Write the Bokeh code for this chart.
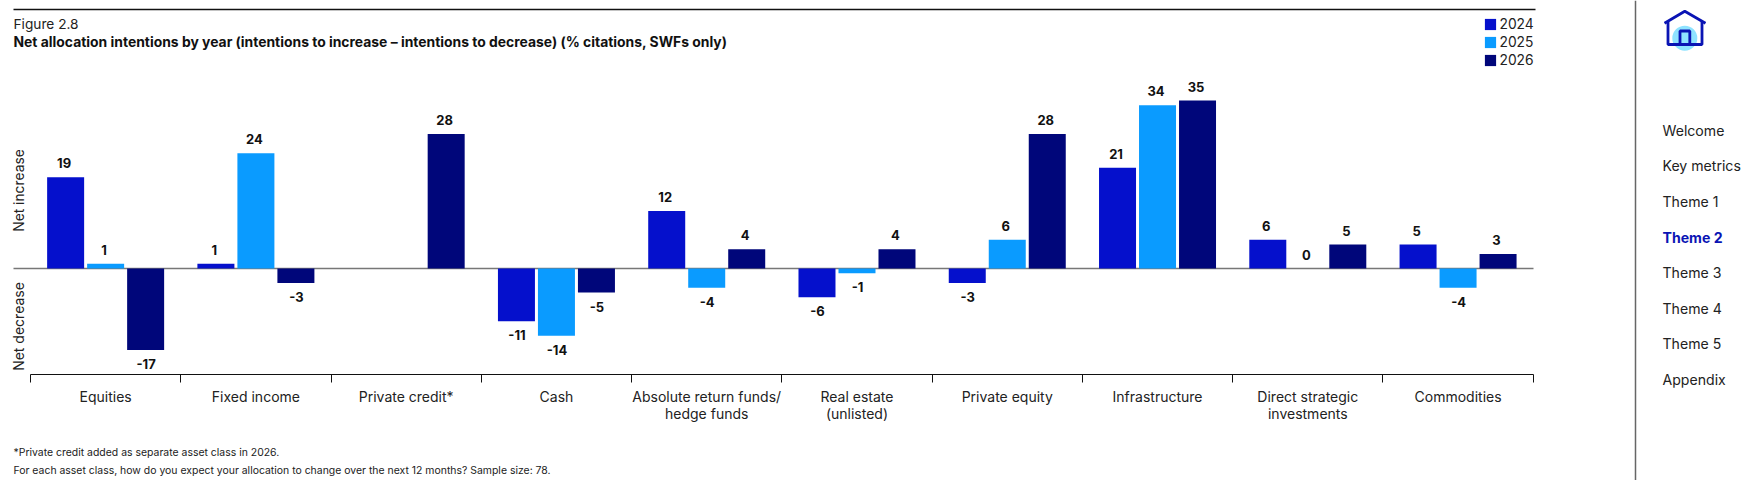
import math
from bokeh.plotting import figure
from bokeh.embed import file_html
from bokeh.resources import INLINE
from bokeh.models import (Range1d, LinearAxis, FixedTicker, Label, Legend, LegendItem, ColumnDataSource)
from bokeh.core.properties import value

categories = ["Equities", "Fixed income", "Private credit*", "Cash",
              "Absolute return funds/\nhedge funds", "Real estate\n(unlisted)",
              "Private equity", "Infrastructure",
              "Direct strategic\ninvestments", "Commodities"]
nan = float("nan")
years = ["2024", "2025", "2026"]
v2024 = [19, 1, nan, -11, 12, -6, -3, 21, 6, 5]
v2025 = [1, 24, nan, -14, -4, -1, 6, 34, 0, -4]
v2026 = [-17, -3, 28, -5, 4, 4, 28, 35, 5, 3]
colors = ["#0510CC", "#0A9BFF", "#00067A"]
title_small = "Figure 2.8"
title_bold = "Net allocation intentions by year (intentions to increase \u2013 intentions to decrease) (% citations, SWFs only)"
foot1 = "*Private credit added as separate asset class in 2026."
foot2 = "For each asset class, how do you expect your allocation to change over the next 12 months? Sample size: 78."
nav = ["Welcome", "Key metrics", "Theme 1", "Theme 2", "Theme 3", "Theme 4", "Theme 5", "Appendix"]
nav_y = [130, 165, 201, 237, 272, 308, 343, 379]

FONT = "Inter"
W, H = 1748, 480
CAT = (1532.7 - 30) / 10      # px per category
UNIT = 4.8                    # px per value unit
ZERO = 268                    # page y of zero line
BOTTOM = 374                  # page y of axis


def X(px):
    return (px - 30) / CAT


def Y(py):
    return (ZERO - py) / UNIT


p = figure(width=W, height=H, output_backend="svg", toolbar_location=None,
           x_range=Range1d(X(0), X(W)), y_range=Range1d(Y(H), Y(0)),
           x_axis_type=None, y_axis_type=None,
           min_border_left=0, min_border_right=0, min_border_top=0, min_border_bottom=0)
p.outline_line_color = None
p.grid.visible = False
p.background_fill_color = "white"

axis = LinearAxis(ticker=FixedTicker(ticks=[i + 0.5 for i in range(10)], minor_ticks=list(range(11))),
                  major_label_overrides={i + 0.5: c for i, c in enumerate(categories)},
                  major_tick_out=0, major_tick_in=0, minor_tick_out=8, minor_tick_in=0,
                  minor_tick_line_color="#111111", axis_line_color="#111111", axis_line_width=1,
                  minor_tick_line_width=1, bounds=(0, 10), fixed_location=Y(BOTTOM),
                  major_label_text_font=FONT, major_label_text_font_size="14px",
                  major_label_text_color="#222222", major_label_standoff=5,
                  major_label_text_line_height=1.0,
                  major_label_orientation="horizontal")
p.add_layout(axis, "below")

# rules: zero line, top rule, sidebar divider
p.line(x=[X(13), X(1533)], y=[0, 0], line_color="#777777", line_width=1.5)
p.line(x=[X(13), X(1535)], y=[Y(9), Y(9)], line_color="#111111", line_width=1.5)
p.line(x=[X(1635), X(1635)], y=[Y(0), Y(H)], line_color="#666666", line_width=1.5)

BW = 37 / CAT
PITCH = 40 / CAT
items = []
all_x, all_y, all_t, all_off, all_xoff = [], [], [], [], []
for k, (yr, vals, col) in enumerate(zip(years, [v2024, v2025, v2026], colors)):
    xs = [i + 0.5 + (k - 1) * PITCH for i in range(10)]
    r = p.vbar(x=xs, top=vals, bottom=0, width=BW, fill_color=col, line_color=None)
    items.append(LegendItem(label=yr, renderers=[r]))
    for x, v in zip(xs, vals):
        if v == v:
            all_x.append(x)
            all_y.append(v)
            all_t.append(str(v))
            all_off.append(14 if v < 0 else -14)
            all_xoff.append(0.5 if v < 0 else -1.5)

src = ColumnDataSource(dict(x=all_x, y=all_y, t=all_t, o=all_off, xo=all_xoff))
p.text(x="x", y="y", text="t", y_offset="o", x_offset="xo", source=src, text_align="center",
       text_baseline="middle", text_font=value(FONT), text_font_style="bold",
       text_font_size="13px", text_color="#111111")

legend = Legend(items=items, location=(1482.5, H - 68), margin=0, padding=0, spacing=2,
                glyph_width=14, glyph_height=14, label_standoff=3, border_line_color=None,
                background_fill_alpha=0, label_text_font=FONT, label_text_font_size="13.8px",
                label_text_color="#222222", label_height=14)
p.add_layout(legend, "center")


def txt(x, y, t, size="13px", style="normal", color="#222222", angle=0, align="left"):
    p.add_layout(Label(x=x, y=H - y, x_units="screen", y_units="screen", text=t,
                       text_font=FONT, text_font_size=size, text_font_style=style,
                       text_color=color, angle=angle, text_align=align, text_baseline="middle"))


txt(13, 23, title_small, "13.7px")
txt(13, 41, title_bold, "13.9px", "bold", "#111111")
txt(18, 190, "Net increase", "13.8px", angle=math.pi / 2, align="center")
txt(18, 326, "Net decrease", "14px", angle=math.pi / 2, align="center")
txt(13, 451.5, foot1, "10.45px")
txt(13, 470, foot2, "10.45px")
for n, y in zip(nav, nav_y):
    txt(1662, y, n, "14.1px", "bold" if n == "Theme 2" else "normal", "#0A14B4" if n == "Theme 2" else "#222222")

# home icon
ICON = "#0A14B4"
p.scatter(x=[X(1684.3)], y=[Y(37.7)], size=25, marker="circle", fill_color="#8FE3FF", line_color=None)
p.line(x=[X(1664), X(1684.3), X(1705)], y=[Y(22.7), Y(10.7), Y(22.7)], line_color=ICON, line_width=2.8)
p.line(x=[X(1667.5), X(1667.5), X(1701.5), X(1701.5)], y=[Y(21), Y(44), Y(44), Y(21)], line_color=ICON, line_width=2.8)
p.line(x=[X(1679.5), X(1679.5), X(1689.3), X(1689.3)], y=[Y(44), Y(30.5), Y(30.5), Y(44)], line_color=ICON, line_width=2.8)

html = file_html(p, INLINE)
open("out.html", "w").write(html)
